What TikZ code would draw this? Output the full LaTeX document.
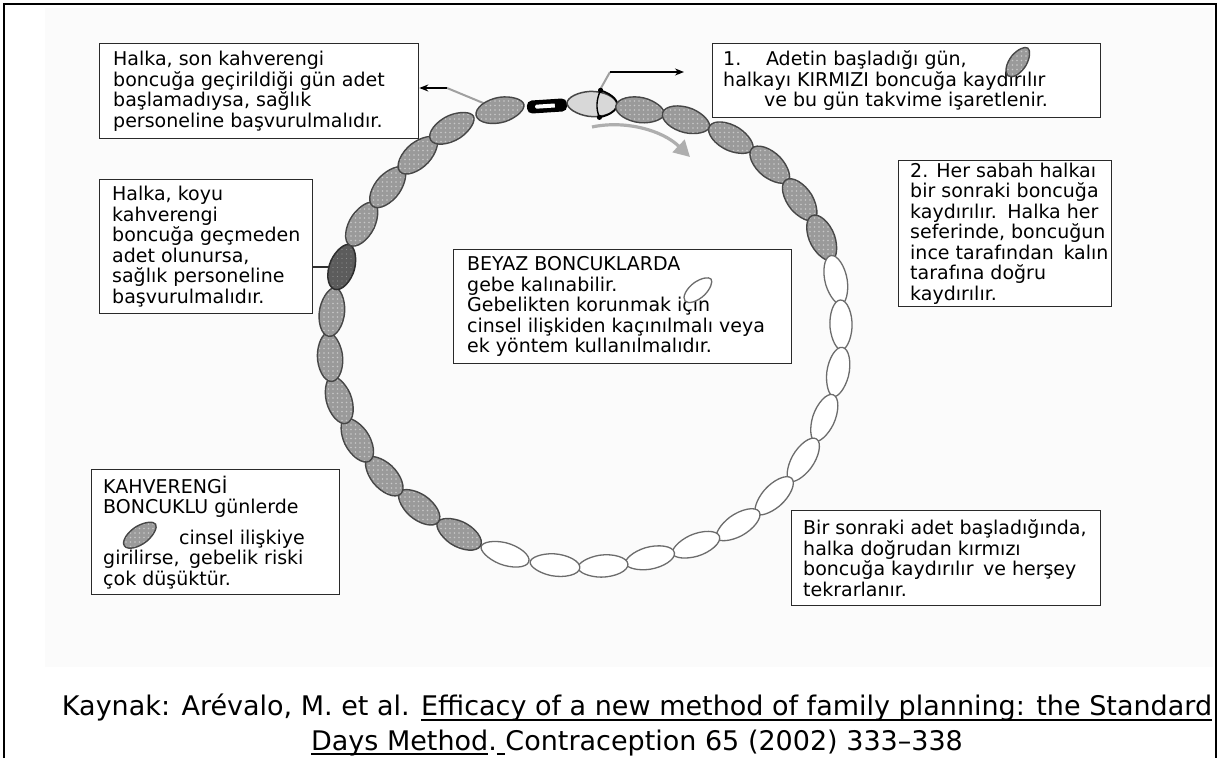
\documentclass[tikz,border=0pt]{standalone}
\usepackage{fontspec}
\setmainfont{DejaVu Sans}
\usetikzlibrary{arrows.meta,patterns.meta}

\definecolor{beadbrown}{HTML}{9A9A9A}
\definecolor{beaddot}{HTML}{C8C8C8}
\definecolor{beadedge}{HTML}{474747}
\definecolor{darkfill}{HTML}{5C5C5C}
\definecolor{darkedge}{HTML}{2E2E2E}
\definecolor{whiteedge}{HTML}{6C6C6C}
\definecolor{redfill}{HTML}{D8D8D8}
\definecolor{guidegray}{HTML}{A0A0A0}
\definecolor{panel}{HTML}{FBFBFB}
\definecolor{boxedge}{HTML}{2A2A2A}

\newcommand\boxfont{\fontsize{19pt}{20.5pt}\selectfont}
\newcommand\capfont{\fontsize{27pt}{36pt}\selectfont}
% heavier underline for the citation
\newcommand\thickul[1]{\setbox0\hbox{#1}\rlap{\rule[-5pt]{\wd0}{2.2pt}}\box0}

\tikzset{
  % bead outline: slightly narrower end on +x, fuller end on -x
  eggshape/.style 2 args={insert path={(#1,0)
      .. controls (#1,{.42*#2}) and ({.6*#1},{.9*#2}) .. ({.1*#1},#2)
      .. controls ({-.45*#1},{1.08*#2}) and (-#1,{.62*#2}) .. (-#1,0)
      .. controls (-#1,{-.62*#2}) and ({-.45*#1},{-1.08*#2}) .. ({.1*#1},-#2)
      .. controls ({.6*#1},{-.9*#2}) and (#1,{-.42*#2}) .. (#1,0) -- cycle}},
  pics/brownbead/.style 2 args={code={
    \fill[beadbrown, eggshape={#1}{#2}];
    \path[pattern={Dots[distance=4.5pt,radius=0.8pt]}, pattern color=beaddot, eggshape={#1}{#2}];
    \draw[beadedge, line width=1.4pt, eggshape={#1}{#2}];
  }},
  pics/darkbead/.style 2 args={code={
    \fill[darkfill, eggshape={#1}{#2}];
    \path[pattern={Dots[distance=4.5pt,radius=0.7pt]}, pattern color=darkfill!70!white, eggshape={#1}{#2}];
    \draw[darkedge, line width=1.5pt, eggshape={#1}{#2}];
  }},
  pics/whitebead/.style 2 args={code={
    \filldraw[fill=white, draw=whiteedge, line width=1.3pt, eggshape={#1}{#2}];
  }},
  pics/redbead/.style={code={
    \filldraw[fill=redfill, draw=beadedge, line width=1.5pt, rotate=180, eggshape={25}{12.5}];
    \draw[black, line width=1.8pt] (8,14) .. controls (22,10) and (26,3) .. (25,0)
          .. controls (25,-4) and (20,-10) .. (8,-13);
    \draw[black, line width=1.4pt] (8,14) .. controls (4,5) and (4,-5) .. (8,-13);
    \fill[black] (8,14) circle (2.6) (8,-13) circle (2.6);
  }},
  pics/clasp/.style={code={
    \fill[black, rounded corners=5pt] (-20,-6.5) rectangle (20,6.5);
    \fill[white, rounded corners=1.5pt] (-12,-2) rectangle (9,2);
    \fill[black] (8,-3.2) -- (13,0) -- (8,3.2) -- cycle;
  }},
  box/.style={draw=boxedge, line width=1.3pt, fill=white, inner sep=0pt, anchor=north west},
  txt/.style={align=left, font=\boxfont, inner sep=0pt, anchor=west},
  guide/.style={draw=guidegray, line width=2pt},
  blackarrow/.style={draw=black, line width=1.3pt, -{Stealth[length=9pt,width=7pt]}},
  guidearrow/.style={draw=guidegray!85!white, line width=3.2pt,
                     -{Triangle[length=16pt,width=17pt]}},
  tick/.style={draw=darkedge, line width=1.5pt},
  frame/.style={draw=black, line width=2.5pt},
}

\begin{document}
\begin{tikzpicture}[x=1pt,y=1pt]
\useasboundingbox (0,0) rectangle (1220,758);

% faint sheet and outer frame
\fill[panel] (45,91) rectangle (1213,750);
\draw[frame] (4,0) -- (4,754) -- (1216,754) -- (1216,0);

% bead centres around the ring (pixel positions, y measured downward)
\def\bx{{547,592,640,686,731,770,800,822,836,841,838,824,803,774,738,696,650,603,555,505,459,419,384,357,339,330,332,342,362,388,418,452,500}}
\def\by{{106,104,110,120,138,165,200,238,280,325,372,418,460,496,525,545,558,566,565,554,534,507,476,440,400,357,312,267,224,187,155,128,110}}
\foreach \k in {0,...,32}{
  \pgfmathsetmacro\px{\bx[\k]}
  \pgfmathsetmacro\py{758-\by[\k]}
  \coordinate (b\k) at (\px,\py);
}

% text boxes
\node[box, minimum width=319pt, minimum height=95pt]  (boxA)   at (99,715)  {};
\node[box, minimum width=388pt, minimum height=74pt]  (boxOne) at (712,715) {};
\node[box, minimum width=213pt, minimum height=146pt] (boxTwo) at (898,598) {};
\node[box, minimum width=213pt, minimum height=134pt] (boxB)   at (99,579)  {};
\node[box, minimum width=338pt, minimum height=114pt] (boxW)   at (453,509) {};
\node[box, minimum width=248pt, minimum height=125pt] (boxK)   at (91,289)  {};
\node[box, minimum width=309pt, minimum height=95pt]  (boxS)   at (791,248) {};

\node[txt] (tA) at ([xshift=14pt]boxA.west)
  {Halka, son kahverengi\\boncuğa geçirildiği gün adet\\başlamadıysa, sağlık\\personeline başvurulmalıdır.};
\node[txt] (tOne) at ([xshift=11pt]boxOne.west)
  {1.\hspace{1.3em}Adetin başladığı gün,\\halkayı KIRMIZI boncuğa kaydırılır\\\hspace{2.15em}ve bu gün takvime işaretlenir.};
\node[txt] (tTwo) at ([xshift=12pt]boxTwo.west)
  {2. Her sabah halkaı\\bir sonraki boncuğa\\kaydırılır.\hspace{.55em}Halka her\\seferinde, boncuğun\\ince tarafından\hspace{.5em}kalın\\tarafına doğru\\kaydırılır.};
\node[txt] (tB) at ([xshift=13pt]boxB.west)
  {Halka, koyu\\kahverengi\\boncuğa geçmeden\\adet olunursa,\\sağlık personeline\\başvurulmalıdır.};
\node[txt] (tW) at ([xshift=14pt]boxW.west)
  {BEYAZ BONCUKLARDA\\gebe kalınabilir.\\Gebelikten korunmak için\\cinsel ilişkiden kaçınılmalı veya\\ek yöntem kullanılmalıdır.};
\node[txt] (tK) at ([xshift=12pt]boxK.west)
  {KAHVERENGİ\\BONCUKLU günlerde\\[10pt]\hspace{4em}cinsel ilişkiye\\girilirse,\hspace{.5em}gebelik riski\\çok düşüktür.};
\node[txt] (tS) at ([xshift=12pt]boxS.west)
  {Bir sonraki adet başladığında,\\halka doğrudan kırmızı\\boncuğa kaydırılır\hspace{.5em}ve herşey\\tekrarlanır.};

% leader lines running under the beads
\coordinate (jA) at (447,670);
\coordinate (jR) at (610,686);
\coordinate (jR2) at (684,686);
\draw[guide] (b32) -- (jA);
\draw[guide] (b1) -- (jR);
\draw[tick] (boxB.east |- b27) -- (b27);

% the ring of beads
\foreach \k in {0,...,32}{
  \pgfmathtruncatemacro\pk{mod(\k+32,33)}
  \pgfmathtruncatemacro\nk{mod(\k+1,33)}
  \pgfmathsetmacro\ang{atan2(\by[\pk]-\by[\nk],\bx[\nk]-\bx[\pk])}
  \ifnum\k=0 \pic[rotate=\ang] at (b\k) {clasp};
  \else\ifnum\k=1 \pic[rotate=\ang] at (b\k) {redbead};
  \else\ifnum\k=27 \pic[rotate=\ang] at (b\k) {darkbead={23.5}{12.5}};
  \else\ifnum\k<8 \pic[rotate=\ang] at (b\k) {brownbead={24.5}{12.5}};
  \else\ifnum\k<20 \pic[rotate=\ang] at (b\k) {whitebead={25}{11}};
  \else \pic[rotate=\ang] at (b\k) {brownbead={24.5}{12.5}};
  \fi\fi\fi\fi\fi
}

% pointers to the two upper boxes
\draw[blackarrow] (jA) -- (boxA.east |- jA);
\draw[blackarrow] (jR) -- (jR2);

% direction of travel
\coordinate (g1) at (592,631);
\coordinate (g2) at (690,601);
\draw[guidearrow] (g1) .. controls (625,638) and (662,628) .. (g2);

% small bead icons inside the boxes
\pic[rotate=55] at (1018,696) {brownbead={17}{8.5}};
\pic[rotate=35] at (140,223) {brownbead={19}{9}};
\pic[rotate=40] at (698,468) {whitebead={17}{8}};

% source line
\node[font=\capfont, inner sep=0pt] (cap1) at (637,50)
  {Kaynak: Arévalo, M. et al. \thickul{Efficacy of a new method of family planning: the Standard}};
\node[font=\capfont, inner sep=0pt] (cap2) at (637,15)
  {\thickul{Days Method}.\thickul{\ }Contraception 65 (2002) 333–338};
\end{tikzpicture}
\end{document}
